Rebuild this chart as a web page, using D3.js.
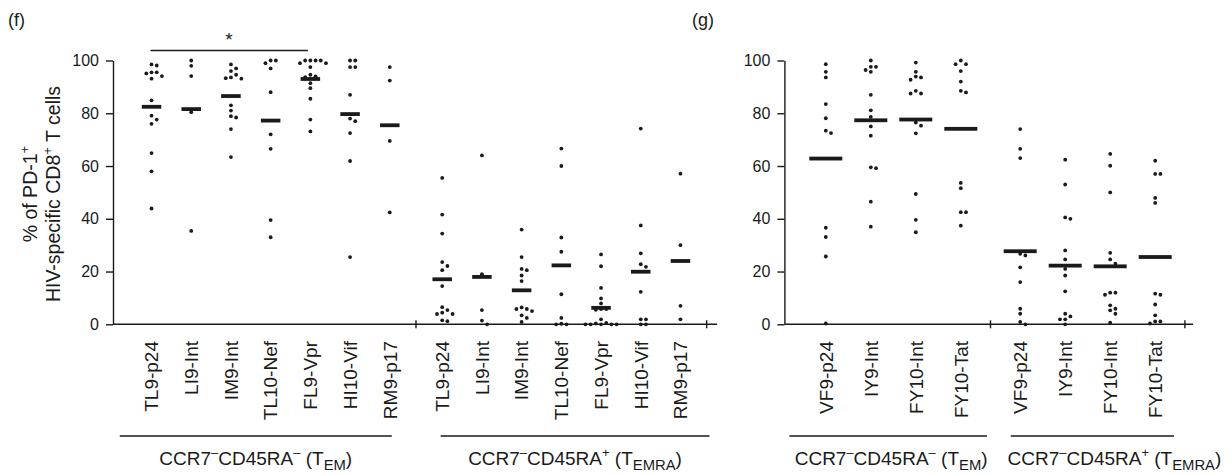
<!DOCTYPE html>
<html>
<head>
<meta charset="utf-8">
<script src="https://cdn.jsdelivr.net/npm/d3@7"></script>
<style>
  body { margin: 0; background: #fff; }
  svg { display: block; font-family: "Liberation Sans", Arial, sans-serif; }
</style>
</head>
<body>
<script>
// ---- data ----
let fCategories = ['TL9-p24', 'LI9-Int', 'IM9-Int', 'TL10-Nef', 'FL9-Vpr', 'HI10-Vif', 'RM9-p17'];
let gCategories = ['VF9-p24', 'IY9-Int', 'FY10-Int', 'FY10-Tat'];
let yTicks = [0, 20, 40, 60, 80, 100];

let fTem = [
    [98.1, 98.5, 95.5, 94.1, 95.1, 95.5, 93.1, 84.9, 79.1, 77.6, 76.0, 64.9, 58.0, 43.9],
    [100, 98, 94.1, 80.4, 35.4],
    [98.5, 97, 94.6, 93.3, 96, 93.1, 93.6, 83, 81, 78.4, 78.9, 74, 63.4],
    [100, 99, 100, 97, 88, 72, 66.5, 39.5, 33],
    [100, 99, 100, 100, 99, 100, 97.5, 94.6, 94, 93.7, 91.4, 89.5, 85.5, 77.6, 73.1],
    [100, 100, 97.5, 97.5, 87, 77, 78, 72.5, 61.9, 25.5],
    [97.5, 92.4, 69.5, 42.4]
];
let fTemra = [
    [55.5, 41.6, 34.4, 23.6, 22.1, 20.5, 14.5, 6.5, 5.4, 4.4, 3.9, 3.9, 1.5, 1.2],
    [64, 19, 5.4, 1.4, 0],
    [35.9, 25.5, 21, 20.5, 18.5, 16.4, 6.4, 5.8, 5.8, 5, 3.4, 2.4, 0.9],
    [66.6, 60, 32.9, 27.5, 11.4, 2.4, 0.2, 0, 0],
    [26.5, 22, 13.8, 9.8, 7.9, 5.8, 5.8, 5.5, 1.9, 0.5, 0.3, 0, 0, 0, 0, 0],
    [74.2, 37.5, 26.9, 22.8, 21.8, 12.3, 1.9, 1.9, 0, 0],
    [57.1, 30, 7, 1.9]
];
let gTem = [
    [98.6, 95.7, 93.6, 83.5, 78.1, 73.4, 72.5, 36.6, 33.1, 25.7, 0.3],
    [100, 97.6, 97.6, 96.4, 95.7, 87, 81.1, 78.6, 75, 71.5, 59.5, 59.2, 46.5, 37],
    [99.2, 95.7, 93.9, 93.6, 92.7, 88.5, 87.5, 87.5, 76.5, 75.3, 72.4, 49.4, 39.6, 34.9],
    [100, 98.6, 98.6, 96, 92, 88.5, 87.9, 53.6, 51.6, 42.5, 42.5, 37.4]
];
let gTemra = [
    [74, 66.5, 63, 26.7, 26.1, 21.6, 16, 5.9, 4, 0.9, 0],
    [62.4, 53, 40.5, 40, 28, 24.6, 21, 18.5, 12.5, 4, 3, 1.9, 1.9, 0],
    [64.6, 60.1, 50, 27.1, 24.6, 23, 12, 12, 11.2, 7.2, 5.9, 5.3, 4, 0.6],
    [62, 57, 57, 47.9, 46, 11.6, 11.2, 7.5, 3.4, 1.1, 1.1, 0.3]
];

let temLabel = [['CCR7'], ['\u2013', 'sup'], ['CD45RA'], ['\u2013', 'sup'], [' (T'], ['EM', 'sub'], [')']];
let temraLabel = [['CCR7'], ['\u2013', 'sup'], ['CD45RA'], ['+', 'sup'], [' (T'], ['EMRA', 'sub'], [')']];
let yTitle1 = [['% of PD-1'], ['+', 'sup']];
let yTitle2 = [['HIV-specific CD8'], ['+', 'sup'], [' T cells']];

// ---- drawing ----
let width = 1231, height = 475;
let ink = '#1a1a1a';
let gap = 0.66;

let svg = d3.select('body').append('svg')
    .attr('width', width).attr('height', height);

function richText(sel, parts, fs) {
    let shift = 0;
    parts.forEach(p => {
        let t = sel.append('tspan').text(p[0]);
        let target = 0;
        if (p[1] === 'sup') { t.attr('font-size', fs * 0.68); target = -fs * 0.42; }
        else if (p[1] === 'sub') { t.attr('font-size', fs * 0.78); target = fs * 0.26; }
        if (target !== shift) t.attr('dy', target - shift);
        shift = target;
    });
}

function panel(opt) {
    let n = opt.categories.length;
    let x = d3.scaleLinear().domain(opt.xDomain).range(opt.xRange);
    let y = d3.scaleLinear().domain([0, 100]).range([324.3, 60.5]);
    let g = svg.append('g');

    // y axis
    let yAxis = d3.axisLeft(y).tickValues(yTicks).tickSize(7).tickPadding(7).tickSizeOuter(0);
    let ya = g.append('g').attr('transform', 'translate(' + opt.xRange[0] + ',0)').call(yAxis);
    ya.select('.domain').attr('stroke', ink).attr('stroke-width', 1.4);
    ya.selectAll('.tick line').attr('stroke', ink).attr('stroke-width', 1.4);
    ya.selectAll('text').attr('fill', ink).style('font-size', '16px')
        .style('font-family', '"Liberation Sans", Arial, sans-serif');

    // x axis line with group ticks
    g.append('line')
        .attr('x1', opt.xRange[0]).attr('x2', opt.xRange[1])
        .attr('y1', y(0)).attr('y2', y(0))
        .attr('stroke', ink).attr('stroke-width', 1.4);
    let divs = [n - 1 + gap, 2 * n - 2 + 3 * gap];
    g.selectAll('.gtick').data(divs).join('line')
        .attr('x1', d => x(d)).attr('x2', d => x(d))
        .attr('y1', y(0) - 4).attr('y2', y(0) + 4)
        .attr('stroke', ink).attr('stroke-width', 1.4);

    let groups = [
        { vals: opt.tem, off: 0, label: temLabel, line: opt.lines[0], shift: opt.labelShift[0] },
        { vals: opt.temra, off: n - 1 + 2 * gap, label: temraLabel, line: opt.lines[1], shift: opt.labelShift[1] }
    ];

    groups.forEach(grp => {
        grp.vals.forEach((vals, i) => {
            let cx = x(grp.off + i);
            // simple beeswarm: place highest first, shift sideways on overlap
            let sorted = vals.slice().sort((a, b) => b - a);
            let placed = [];
            sorted.forEach(v => {
                let py = y(v);
                let k = 0;
                let order = [0, 1, -1, 2, -2, 3, -3, 4, -4];
                for (let o of order) {
                    let px = cx + o * 5.2;
                    let clash = placed.some(p => Math.hypot(p[0] - px, p[1] - py) < 4.6);
                    if (!clash) { k = o; break; }
                }
                placed.push([cx + k * 5.2, py]);
            });
            g.append('g').selectAll('circle').data(placed).join('circle')
                .attr('cx', d => d[0]).attr('cy', d => d[1]).attr('r', 1.9)
                .attr('fill', ink);
            let m = d3.mean(vals);
            g.append('rect')
                .attr('x', cx - opt.barW / 2).attr('y', y(m) - 1.9)
                .attr('width', opt.barW).attr('height', 3.8)
                .attr('fill', ink);
        });

        // category labels
        g.append('g').selectAll('text').data(opt.categories).join('text')
            .attr('transform', (d, i) => 'translate(' + (x(grp.off + i) + 6.8) + ',341) rotate(-90)')
            .attr('text-anchor', 'end')
            .attr('fill', ink)
            .style('font-size', '19px')
            .text(d => d);

        // group bracket + label
        g.append('line')
            .attr('x1', x(grp.line[0])).attr('x2', x(grp.line[1]))
            .attr('y1', 436).attr('y2', 436)
            .attr('stroke', ink).attr('stroke-width', 1.4);
        let t = g.append('text')
            .attr('x', (x(grp.line[0]) + x(grp.line[1])) / 2 + grp.shift)
            .attr('y', 465)
            .attr('text-anchor', 'middle')
            .attr('fill', ink)
            .style('font-size', '19px');
        richText(t, grp.label, 19);
    });

    // panel letter
    svg.append('text')
        .attr('x', opt.letterX).attr('y', 26)
        .attr('fill', ink).style('font-size', '18px')
        .text(opt.letter);

    return { x: x, y: y, g: g };
}

let f = panel({
    categories: fCategories, tem: fTem, temra: fTemra,
    xDomain: [-0.97, 14.24], xRange: [113, 717],
    barW: 19.5, lines: [[-0.8, 6.05], [7.28, 14.05]], labelShift: [0, 0],
    letter: '(f)', letterX: 8
});

let gp = panel({
    categories: gCategories, tem: gTem, temra: gTemra,
    xDomain: [-0.92, 8.16], xRange: [784.4, 1193],
    barW: 33, lines: [[-0.81, 3.58], [4.11, 7.74]], labelShift: [3, 22],
    letter: '(g)', letterX: 692
});

// significance bracket TL9-p24 vs FL9-Vpr (TEM)
f.g.append('line')
    .attr('x1', f.x(0) - 1).attr('x2', f.x(4) - 2.5)
    .attr('y1', 50.5).attr('y2', 50.5)
    .attr('stroke', ink).attr('stroke-width', 1.4);
f.g.append('text')
    .attr('x', (f.x(0) + f.x(4)) / 2 - 2).attr('y', 46)
    .attr('text-anchor', 'middle').attr('fill', ink)
    .style('font-size', '19px')
    .text('*');

// y axis title (panel f), two centred lines
let yt1 = svg.append('text')
    .attr('transform', 'translate(37,194) rotate(-90)')
    .attr('text-anchor', 'middle')
    .attr('fill', ink).style('font-size', '19.5px');
richText(yt1, yTitle1, 19.5);
let yt2 = svg.append('text')
    .attr('transform', 'translate(60,194) rotate(-90)')
    .attr('text-anchor', 'middle')
    .attr('fill', ink).style('font-size', '19.5px');
richText(yt2, yTitle2, 19.5);
</script>
</body>
</html>
